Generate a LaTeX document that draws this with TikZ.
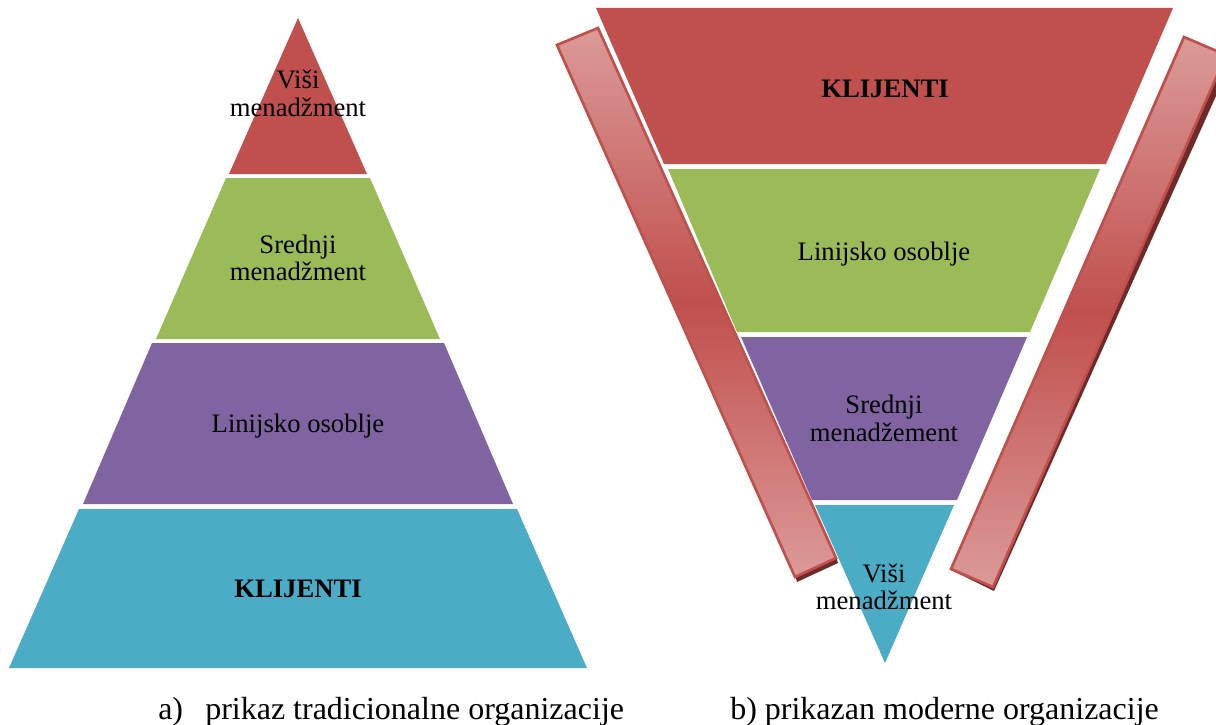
\documentclass[tikz,border=0pt]{standalone}
\usepackage{fontspec}
\setmainfont{Liberation Serif}
\definecolor{tred}{HTML}{C0504D}
\definecolor{tgreen}{HTML}{9BBB59}
\definecolor{tpurple}{HTML}{8064A2}
\definecolor{tteal}{HTML}{4BACC6}
\definecolor{barlight}{HTML}{DB9A98}
\definecolor{bardark}{HTML}{C0504D}
\definecolor{barshadow}{HTML}{6E2A28}
\tikzset{
  lbl/.style={font=\fontsize{20}{20}\selectfont, inner sep=0pt, text=black, anchor=base},
  blbl/.style={lbl, font=\fontsize{20}{20}\selectfont\bfseries},
  captxt/.style={font=\fontsize{24}{24}\selectfont, inner sep=0pt, text=black, anchor=base west},
  barbody/.style={draw=tred, line width=2pt, line join=miter, top color=barlight, bottom color=barlight, middle color=bardark},
  barshade/.style={fill=barshadow, draw=none},
}
\begin{document}
\begin{tikzpicture}[x=0.75pt,y=-0.75pt]
\useasboundingbox (0,0) rectangle (1216,724);
\fill[white] (0,0) rectangle (1216,724);
% left pyramid
\fill[tred] (298,18) -- (367,174) -- (229,174) -- cycle;
\fill[tgreen] (226,178) -- (370,178) -- (440,339) -- (156,339) -- cycle;
\fill[tpurple] (152,343) -- (444,343) -- (513,504) -- (83,504) -- cycle;
\fill[tteal] (79,509) -- (517,509) -- (587,668) -- (9,668) -- cycle;
% right pyramid
\fill[tred] (596,8) -- (1173,8) -- (1106,164) -- (664,164) -- cycle;
\fill[tgreen] (668,169) -- (1100,169) -- (1030,332) -- (737,332) -- cycle;
\fill[tpurple] (741,337) -- (1027,337) -- (957,500) -- (812,500) -- cycle;
\fill[tteal] (815,505) -- (954,505) -- (885,663) -- cycle;
% bars
\begin{scope}
\clip (0,0) rectangle (1216,724);
\fill[barshade] (797,582) -- (838,563) -- (836,556) -- (795,575) -- cycle;
\path[barbody] (557,45) -- (598,28) -- (836,558) -- (795,577) -- cycle;
\fill[barshade] (951,570) -- (994,591) -- (1233,58) -- (1226,52) -- (993,584) -- cycle;
\path[barbody] (1184,37) -- (1226,55) -- (993,587) -- (951,569) -- cycle;
\end{scope}
% labels
\node[lbl] (a1) at (298,89) {Viši};
\node[lbl] (a2) at (298,116) {menadžment};
\node[lbl] (b1) at (298,253) {Srednji};
\node[lbl] (b2) at (298,280) {menadžment};
\node[lbl] (c1) at (298,432) {Linijsko osoblje};
\node[blbl] (d1) at (298,597) {KLIJENTI};
\node[blbl] (e1) at (885,97) {KLIJENTI};
\node[lbl] (f1) at (884,260) {Linijsko osoblje};
\node[lbl] (g1) at (884,413) {Srednji};
\node[lbl] (g2) at (884,441) {menadžement};
\node[lbl] (h1) at (884,582) {Viši};
\node[lbl] (h2) at (884,609) {menadžment};
\node[captxt] (ca) at (158,719) {a)};
\node[captxt] (cb) at (205,719) {prikaz tradicionalne organizacije};
\node[captxt] (cc) at (730,719) {b) prikazan moderne organizacije};
\end{tikzpicture}
\end{document}
